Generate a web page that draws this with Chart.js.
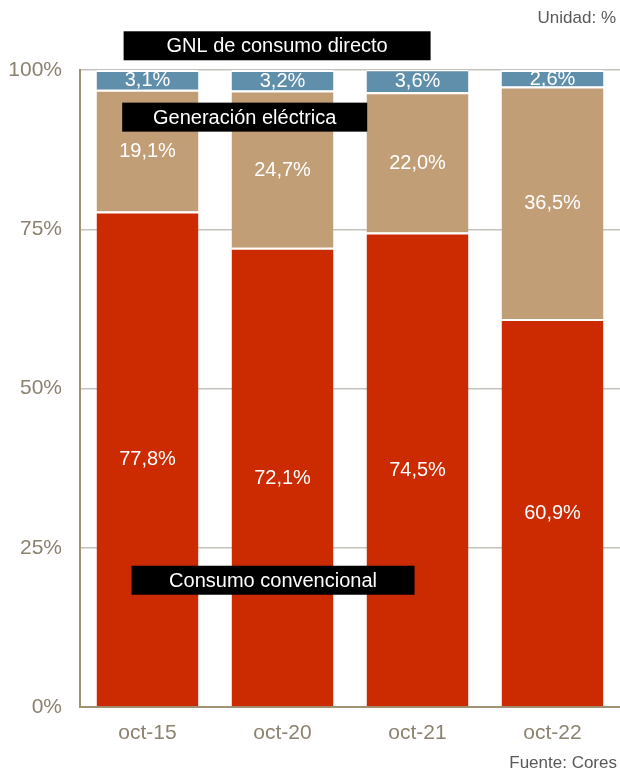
<!DOCTYPE html>
<html>
<head>
<meta charset="utf-8">
<script src="https://cdn.jsdelivr.net/npm/chart.js@4/dist/chart.umd.min.js"></script>
<style>
  body { margin: 0; background: #fff; }
  #wrap { position: relative; width: 620px; height: 776px; font-family: "Liberation Sans", Arial, sans-serif; }
  .note { position: absolute; color: #595959; font-size: 17px; }
  #unit { right: 4px; top: 8px; }
  #source { right: 3px; top: 753px; }
</style>
</head>
<body>
<div id="wrap">
  <canvas id="chart" width="620" height="776"></canvas>
  <div class="note" id="unit">Unidad: %</div>
  <div class="note" id="source">Fuente: Cores</div>
</div>
<script>
// data (share of total, %)
const periods = ['oct-15', 'oct-20', 'oct-21', 'oct-22'];
const conventional = [77.8, 72.1, 74.5, 60.9];
const power = [19.1, 24.7, 22.0, 36.5];
const directLng = [3.1, 3.2, 3.6, 2.6];
const seriesNames = ['Consumo convencional', 'Generación eléctrica', 'GNL de consumo directo'];
const yTicks = [0, 25, 50, 75, 100];

const FONT = '"Liberation Sans", Arial, sans-serif';
const tickColor = '#8c8270';
const axisColor = '#a09275';

const fmt = v => v.toFixed(1).replace('.', ',') + '%';

// white value labels in the middle of every segment
const valueLabels = {
  id: 'valueLabels',
  afterDatasetsDraw(chart) {
    const ctx = chart.ctx;
    ctx.save();
    ctx.fillStyle = '#fff';
    ctx.font = '20px ' + FONT;
    ctx.textAlign = 'center';
    ctx.textBaseline = 'middle';
    chart.data.datasets.forEach((ds, i) => {
      chart.getDatasetMeta(i).data.forEach((bar, j) => {
        const p = bar.getProps(['x', 'y', 'base'], true);
        ctx.fillText(fmt(ds.data[j]), p.x, (p.y + p.base) / 2 + 1);
      });
    });
    ctx.restore();
  }
};

// black name tags, placed in scale units
const nameTags = {
  id: 'nameTags',
  afterDraw(chart) {
    const { ctx, scales: { x, y } } = chart;
    const tags = [
      { text: seriesNames[2], cx: 0.96, cy: 103.8, w: 307 },
      { text: seriesNames[1], cx: 0.72, cy: 92.6, w: 245 },
      { text: seriesNames[0], cx: 0.93, cy: 19.9, w: 283 }
    ];
    ctx.save();
    ctx.font = '20px ' + FONT;
    ctx.textAlign = 'center';
    ctx.textBaseline = 'middle';
    tags.forEach(t => {
      const px = x.getPixelForValue(t.cx);
      const py = y.getPixelForValue(t.cy);
      ctx.fillStyle = '#000';
      ctx.fillRect(px - t.w / 2, py - 14.5, t.w, 29);
      ctx.fillStyle = '#fff';
      ctx.fillText(t.text, px, py + 1);
    });
    ctx.restore();
  }
};

const barStyle = {
  borderColor: '#fff',
  borderWidth: { top: 2, bottom: 0, left: 0, right: 0 },
  borderSkipped: false,
  barPercentage: 0.755,
  categoryPercentage: 1
};

new Chart(document.getElementById('chart'), {
  type: 'bar',
  data: {
    labels: periods,
    datasets: [
      { label: seriesNames[0], data: conventional, backgroundColor: '#cc2a00', ...barStyle },
      { label: seriesNames[1], data: power, backgroundColor: '#c29e77', ...barStyle },
      { label: seriesNames[2], data: directLng, backgroundColor: '#5f8faa', ...barStyle }
    ]
  },
  options: {
    responsive: false,
    animation: false,
    layout: { padding: { top: 70, right: 0, left: 0, bottom: 0 } },
    plugins: { legend: { display: false }, tooltip: { enabled: false } },
    scales: {
      x: {
        stacked: true,
        grid: { display: false, drawTicks: false },
        border: { color: axisColor, width: 2 },
        ticks: { color: tickColor, font: { family: FONT, size: 21 }, padding: 14 },
        afterFit(s) { s.height = 69; }
      },
      y: {
        stacked: true,
        min: 0,
        max: 100,
        afterBuildTicks(s) { s.ticks = yTicks.map(v => ({ value: v })); },
        grid: { color: '#c4c2bc', lineWidth: 1.5, drawTicks: false },
        border: { color: axisColor, width: 2 },
        ticks: { color: tickColor, font: { family: FONT, size: 21 }, padding: 18, callback: v => v + '%' },
        afterFit(s) { s.width = 80; }
      }
    }
  },
  plugins: [valueLabels, nameTags]
});
</script>
</body>
</html>
